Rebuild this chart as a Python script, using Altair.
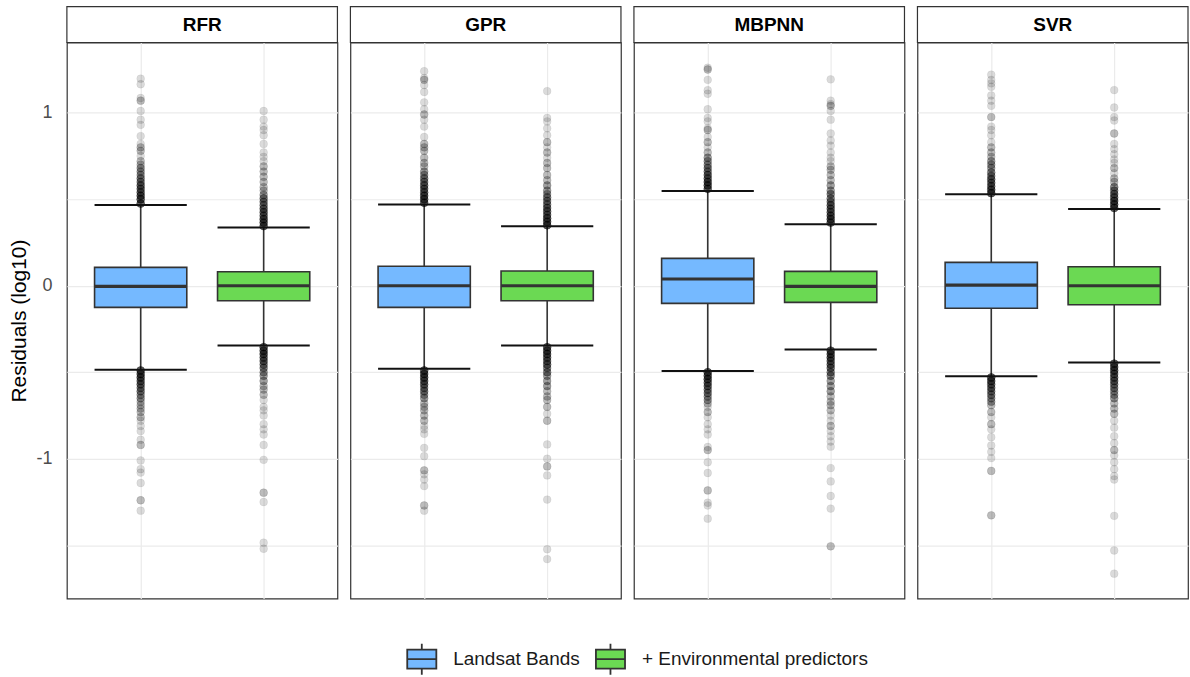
import altair as alt
import pandas as pd

# ---------------- data ----------------
models = ["RFR", "GPR", "MBPNN", "SVR"]
groups = ["Landsat Bands", "+ Environmental predictors"]
colors = ["#75B9FF", "#6BD953"]

# box statistics, order: (model, group) pairs
stat_model = ["RFR", "RFR", "GPR", "GPR", "MBPNN", "MBPNN", "SVR", "SVR"]
stat_group = groups * 4
lo_whisker = [-0.485, -0.346, -0.480, -0.346, -0.492, -0.369, -0.523, -0.444]
q1_values = [-0.125, -0.087, -0.125, -0.087, -0.102, -0.096, -0.130, -0.110]
medians = [-0.004, 0.000, 0.000, 0.000, 0.039, -0.004, 0.004, 0.000]
q3_values = [0.106, 0.081, 0.113, 0.085, 0.158, 0.083, 0.135, 0.110]
hi_whisker = [0.467, 0.337, 0.470, 0.344, 0.548, 0.356, 0.529, 0.444]

# outliers: (value, number of overlapping points)
RFR_L = [(0.475, 6), (0.50, 6), (0.52, 6), (0.54, 5), (0.56, 5), (0.58, 5), (0.60, 4), (0.62, 4), (0.64, 3),
         (0.66, 3), (0.68, 3), (0.70, 2), (0.72, 2), (0.75, 1), (0.78, 2), (0.80, 2), (0.82, 1), (0.865, 1),
         (0.93, 1), (0.96, 1), (1.01, 1), (1.07, 2), (1.085, 1), (1.165, 1), (1.197, 1),
         (-0.49, 6), (-0.51, 6), (-0.53, 6), (-0.55, 5), (-0.57, 5), (-0.59, 4), (-0.61, 4), (-0.63, 3),
         (-0.65, 3), (-0.67, 2), (-0.69, 2), (-0.71, 2), (-0.73, 2), (-0.76, 2), (-0.78, 1), (-0.81, 1),
         (-0.84, 1), (-0.89, 1), (-0.92, 2), (-1.01, 1), (-1.06, 1), (-1.08, 1), (-1.14, 1), (-1.24, 2), (-1.30, 1)]
RFR_E = [(0.345, 6), (0.365, 6), (0.385, 6), (0.405, 5), (0.425, 5), (0.445, 5), (0.465, 4), (0.485, 4),
         (0.505, 4), (0.525, 3), (0.55, 2), (0.57, 2), (0.60, 2), (0.63, 2), (0.66, 2), (0.69, 2), (0.72, 1),
         (0.745, 1), (0.77, 1), (0.82, 1), (0.87, 1), (0.90, 1), (0.92, 1), (0.96, 1), (1.01, 1),
         (-0.355, 6), (-0.375, 6), (-0.395, 6), (-0.415, 5), (-0.435, 5), (-0.455, 4), (-0.475, 4), (-0.50, 3),
         (-0.52, 3), (-0.55, 3), (-0.58, 2), (-0.60, 2), (-0.63, 2), (-0.66, 1), (-0.70, 1), (-0.72, 1),
         (-0.75, 1), (-0.80, 1), (-0.83, 1), (-0.86, 1), (-0.92, 1), (-1.006, 1), (-1.196, 2), (-1.25, 1),
         (-1.485, 1), (-1.52, 1)]
GPR_L = [(0.48, 6), (0.50, 6), (0.52, 6), (0.54, 5), (0.56, 5), (0.58, 5), (0.60, 4), (0.62, 4), (0.64, 3),
         (0.66, 3), (0.69, 2), (0.71, 2), (0.74, 2), (0.78, 2), (0.80, 2), (0.82, 2), (0.86, 1), (0.92, 1),
         (0.96, 1), (0.99, 2), (1.02, 1), (1.06, 1), (1.12, 1), (1.16, 1), (1.19, 2), (1.20, 1), (1.24, 1),
         (-0.49, 6), (-0.51, 6), (-0.53, 6), (-0.55, 5), (-0.57, 5), (-0.59, 4), (-0.61, 4), (-0.63, 3),
         (-0.65, 3), (-0.68, 2), (-0.70, 2), (-0.72, 2), (-0.75, 2), (-0.78, 2), (-0.81, 1), (-0.83, 1),
         (-0.856, 1), (-0.937, 1), (-0.985, 1), (-1.067, 2), (-1.09, 1), (-1.12, 1), (-1.158, 1), (-1.27, 2),
         (-1.30, 1)]
GPR_E = [(0.35, 6), (0.37, 6), (0.39, 6), (0.41, 5), (0.43, 5), (0.45, 5), (0.47, 4), (0.49, 4), (0.51, 4),
         (0.53, 3), (0.55, 3), (0.58, 3), (0.61, 2), (0.64, 2), (0.68, 2), (0.71, 2), (0.74, 1), (0.77, 2),
         (0.80, 1), (0.83, 2), (0.87, 1), (0.91, 1), (0.95, 1), (0.97, 1), (1.125, 1),
         (-0.355, 6), (-0.375, 6), (-0.395, 6), (-0.415, 5), (-0.435, 5), (-0.455, 5), (-0.475, 4), (-0.50, 4),
         (-0.52, 3), (-0.55, 3), (-0.58, 3), (-0.61, 2), (-0.64, 2), (-0.66, 2), (-0.70, 2), (-0.74, 1),
         (-0.78, 2), (-0.917, 1), (-1.0, 1), (-1.044, 2), (-1.096, 1), (-1.236, 1), (-1.523, 1), (-1.58, 1)]
MBPNN_L = [(0.56, 6), (0.58, 6), (0.60, 6), (0.62, 5), (0.64, 5), (0.66, 4), (0.68, 4), (0.70, 3), (0.72, 3),
           (0.74, 3), (0.77, 2), (0.80, 1), (0.83, 2), (0.86, 1), (0.90, 2), (0.91, 1), (0.95, 1), (0.97, 1),
           (1.02, 1), (1.11, 1), (1.13, 1), (1.19, 1), (1.25, 2), (1.26, 1),
           (-0.50, 6), (-0.52, 6), (-0.54, 6), (-0.56, 5), (-0.58, 5), (-0.60, 4), (-0.62, 4), (-0.64, 3),
           (-0.66, 3), (-0.68, 2), (-0.70, 1), (-0.73, 2), (-0.76, 1), (-0.80, 1), (-0.83, 1), (-0.86, 1),
           (-0.932, 1), (-0.95, 2), (-1.02, 1), (-1.082, 1), (-1.183, 2), (-1.254, 1), (-1.27, 1), (-1.346, 1)]
MBPNN_E = [(0.365, 6), (0.385, 6), (0.405, 6), (0.425, 5), (0.445, 5), (0.465, 5), (0.485, 4), (0.505, 4),
           (0.53, 4), (0.55, 3), (0.58, 3), (0.61, 2), (0.64, 2), (0.67, 2), (0.69, 2), (0.72, 1), (0.74, 1),
           (0.77, 1), (0.81, 1), (0.84, 1), (0.88, 1), (0.96, 1), (1.01, 1), (1.04, 2), (1.05, 1), (1.07, 1),
           (1.193, 1),
           (-0.375, 6), (-0.395, 6), (-0.415, 6), (-0.435, 5), (-0.455, 5), (-0.475, 5), (-0.50, 4), (-0.52, 4),
           (-0.55, 3), (-0.58, 3), (-0.61, 3), (-0.64, 2), (-0.67, 2), (-0.69, 2), (-0.72, 2), (-0.75, 1),
           (-0.78, 1), (-0.81, 2), (-0.84, 1), (-0.87, 1), (-0.90, 1), (-0.93, 1), (-1.054, 1), (-1.131, 1),
           (-1.215, 1), (-1.288, 1), (-1.506, 2)]
SVR_L = [(0.535, 6), (0.555, 6), (0.575, 5), (0.595, 5), (0.615, 5), (0.635, 4), (0.655, 4), (0.68, 3),
         (0.70, 3), (0.72, 3), (0.745, 2), (0.77, 2), (0.80, 2), (0.83, 1), (0.87, 1), (0.90, 1), (0.92, 1),
         (0.975, 2), (1.04, 1), (1.07, 1), (1.10, 1), (1.15, 1), (1.17, 1), (1.19, 1), (1.22, 1),
         (-0.53, 6), (-0.55, 6), (-0.57, 5), (-0.59, 5), (-0.61, 4), (-0.63, 4), (-0.65, 3), (-0.67, 3),
         (-0.69, 2), (-0.73, 2), (-0.76, 1), (-0.80, 2), (-0.83, 1), (-0.875, 1), (-0.923, 1), (-0.96, 1),
         (-0.996, 1), (-1.07, 2), (-1.327, 2)]
SVR_E = [(0.45, 6), (0.47, 6), (0.49, 6), (0.51, 5), (0.53, 5), (0.55, 4), (0.57, 4), (0.60, 2), (0.62, 2),
         (0.65, 1), (0.68, 2), (0.71, 1), (0.73, 1), (0.76, 1), (0.79, 1), (0.82, 1), (0.88, 2), (0.955, 1),
         (0.975, 1), (1.03, 1), (1.131, 1),
         (-0.45, 6), (-0.47, 6), (-0.49, 6), (-0.51, 5), (-0.53, 5), (-0.55, 5), (-0.57, 4), (-0.59, 4),
         (-0.61, 3), (-0.63, 3), (-0.65, 3), (-0.68, 2), (-0.71, 2), (-0.74, 2), (-0.78, 1), (-0.82, 1),
         (-0.87, 1), (-0.91, 1), (-0.95, 2), (-0.98, 1), (-1.02, 1), (-1.06, 1), (-1.10, 1), (-1.12, 1),
         (-1.33, 1), (-1.53, 1), (-1.664, 1)]

outliers = {
    ("RFR", groups[0]): RFR_L, ("RFR", groups[1]): RFR_E,
    ("GPR", groups[0]): GPR_L, ("GPR", groups[1]): GPR_E,
    ("MBPNN", groups[0]): MBPNN_L, ("MBPNN", groups[1]): MBPNN_E,
    ("SVR", groups[0]): SVR_L, ("SVR", groups[1]): SVR_E,
}

# ---------------- table ----------------
BOX_HALF = 0.375
rows = []
for i in range(len(stat_model)):
    pos = groups.index(stat_group[i]) + 1
    rows.append(dict(kind="box", model=stat_model[i], group=stat_group[i], pos=pos,
                     xl=pos - BOX_HALF, xr=pos + BOX_HALF,
                     lo=lo_whisker[i], q1=q1_values[i], med=medians[i],
                     q3=q3_values[i], hi=hi_whisker[i]))
for (m, g), vals in outliers.items():
    pos = groups.index(g) + 1
    for v, n in vals:
        for _ in range(n):
            rows.append(dict(kind="out", model=m, group=g, pos=pos, value=v))
df = pd.DataFrame(rows)

# ---------------- chart ----------------
W, H = 271, 557
DARK = "#333333"
GRID = "#ebebeb"

x_scale = alt.Scale(domain=[0.4, 2.6], nice=False, zero=False)
y_scale = alt.Scale(domain=[-1.808, 1.406], nice=False, zero=False)
x_axis = alt.Axis(values=[1, 2], grid=True, labels=False, ticks=False, domain=False, tickSize=0,
                  labelPadding=0, title=None, gridColor=GRID, gridWidth=1.2)
y_axis = alt.Axis(values=[-1.5, -1, -0.5, 0, 0.5, 1], grid=True, ticks=False, domain=False, tickSize=0,
                  labelExpr="datum.value == 1 ? '1' : datum.value == 0 ? '0' : datum.value == -1 ? '-1' : ''",
                  gridColor=GRID, gridWidth=1.2, labelFontSize=18, labelColor="#4d4d4d",
                  labelPadding=13, titleFontSize=21, titleColor="#000000", titleFontWeight="normal",
                  titlePadding=6)
YT = "Residuals (log10)"


def X(f):
    return alt.X(f, scale=x_scale, axis=x_axis, title=None)


def Y(f):
    return alt.Y(f, scale=y_scale, axis=y_axis, title=YT)


box_only = alt.datum.kind == "box"

whisk = alt.Chart().mark_rule(color=DARK, strokeWidth=1.6).encode(
    x=X("pos:Q"), y=Y("lo:Q"), y2="hi:Q"
).transform_filter(box_only)

points = alt.Chart().mark_circle(size=62, color="black", fillOpacity=0.14, stroke="black",
                                 strokeOpacity=0.06, strokeWidth=1).encode(
    x=X("pos:Q"), y=Y("value:Q")
).transform_filter(alt.datum.kind == "out")

legend_symbol = "M0,-1V-0.61M-0.94,-0.61H0.94V0.61H-0.94ZM-0.94,0H0.94M0,0.61V1"

boxes = alt.Chart().mark_rect(stroke=DARK, strokeWidth=1.6).encode(
    x=X("xl:Q"), x2="xr:Q", y=Y("q1:Q"), y2="q3:Q",
    fill=alt.Fill("group:N", scale=alt.Scale(domain=groups, range=colors),
                  legend=alt.Legend(title=None, orient="none", direction="horizontal",
                                    legendX=339, legendY=601,
                                    symbolType=legend_symbol, symbolSize=961,
                                    symbolStrokeColor=DARK, symbolStrokeWidth=1.8,
                                    labelFontSize=19, labelColor="#1a1a1a", labelLimit=500,
                                    labelOffset=15, columnPadding=12))
).transform_filter(box_only)

median = alt.Chart().mark_rule(color=DARK, strokeWidth=3.2).encode(
    x=X("xl:Q"), x2="xr:Q", y=Y("med:Q")
).transform_filter(box_only)

cap_hi = alt.Chart().mark_rule(color="#111111", strokeWidth=2).encode(
    x=X("xl:Q"), x2="xr:Q", y=Y("hi:Q")
).transform_filter(box_only)

cap_lo = alt.Chart().mark_rule(color="#111111", strokeWidth=2).encode(
    x=X("xl:Q"), x2="xr:Q", y=Y("lo:Q")
).transform_filter(box_only)

strip_filter = (alt.datum.kind == "box") & (alt.datum.group == groups[0])

strip = alt.Chart().mark_rect(fill="white", stroke=DARK, strokeWidth=1.2).encode(
    x=alt.value(0), x2=alt.value(W), y=alt.value(-36), y2=alt.value(0)
).transform_filter(strip_filter)

strip_text = alt.Chart().mark_text(fontSize=19, fontWeight="bold", color="#000000",
                                   align="center", baseline="middle").encode(
    x=alt.value(W / 2), y=alt.value(-17.5), text="model:N"
).transform_filter(strip_filter)

layered = alt.layer(whisk, points, boxes, median, cap_hi, cap_lo, strip, strip_text,
                    data=df).properties(width=W, height=H)

chart = layered.facet(
    column=alt.Column("model:N", sort=models,
                      header=alt.Header(labels=False, title=None, labelPadding=0, titlePadding=0)),
    spacing=9,
).properties(
    padding={"left": 8, "top": 4, "right": 0, "bottom": 0}
).configure(
    font="Liberation Sans"
).configure_view(
    stroke=DARK, strokeWidth=1.2
)

chart.save("out.html", embed_options={"renderer": "svg", "actions": False})
